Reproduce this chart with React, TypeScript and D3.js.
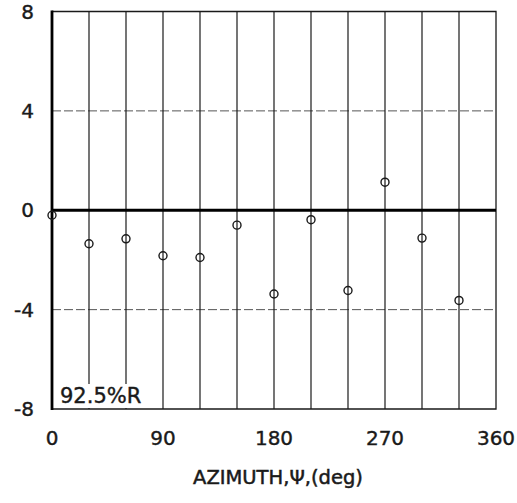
import * as d3 from "d3";
import React, { useEffect, useRef } from "react";

// azimuth stations (deg) and measured values
const azimuths = [0, 30, 60, 90, 120, 150, 180, 210, 240, 270, 300, 330];
const values = [-0.2, -1.35, -1.15, -1.83, -1.9, -0.6, -3.37, -0.38, -3.23, 1.13, -1.12, -3.63];
const xTicks = [0, 90, 180, 270, 360];
const xGrid = [30, 60, 90, 120, 150, 180, 210, 240, 270, 300, 330];
const yTicks = [-8, -4, 0, 4, 8];
const label = "92.5%R";
const xTitle = "AZIMUTH,\u03A8,(deg)";

export default function App() {
  const ref = useRef<SVGSVGElement | null>(null);

  useEffect(() => {
    if (!ref.current) return;
    const width = 517, height = 503;
    const margin = { top: 11.5, right: 21, bottom: 94, left: 52 };

    const svg = d3.select(ref.current);
    svg.selectAll("*").remove();

    const x = d3.scaleLinear().domain([0, 360]).range([margin.left, width - margin.right]);
    const y = d3.scaleLinear().domain([-8, 8]).range([height - margin.bottom, margin.top]);

    const font = "'DejaVu Sans', Verdana, sans-serif";
    const ink = "#1a1a1a";

    // horizontal grid (dashed)
    svg.append("g")
      .selectAll("line")
      .data([-4, 4])
      .join("line")
      .attr("x1", x(0)).attr("x2", x(360))
      .attr("y1", d => y(d)).attr("y2", d => y(d))
      .attr("stroke", "#555")
      .attr("stroke-width", 1)
      .attr("stroke-dasharray", "9,3");

    // vertical grid
    svg.append("g")
      .selectAll("line")
      .data(xGrid)
      .join("line")
      .attr("x1", d => x(d)).attr("x2", d => x(d))
      .attr("y1", y(8)).attr("y2", y(-8))
      .attr("stroke", ink)
      .attr("stroke-width", 1.2);

    // frame (top, right, bottom)
    svg.append("path")
      .attr("d", `M${x(0)},${y(8)}H${x(360)}V${y(-8)}H${x(0)}`)
      .attr("fill", "none")
      .attr("stroke", ink).attr("stroke-width", 1.3);

    // label box hides grid lines behind it
    const lbl = svg.append("text")
      .attr("x", x(0) + 8)
      .attr("y", y(-8) - 6)
      .attr("font-family", font)
      .attr("font-size", 21)
      .attr("fill", ink)
      .attr("stroke", ink)
      .attr("stroke-width", 0.4)
      .text(label);
    const bb = (lbl.node() as SVGTextElement).getBBox();
    svg.insert("rect", "text")
      .attr("x", bb.x - 2).attr("y", bb.y)
      .attr("width", bb.width + 4).attr("height", y(-8) - bb.y - 1)
      .attr("fill", "#fff");

    // zero line and left axis (thick)
    svg.append("line")
      .attr("x1", x(0)).attr("x2", x(360)).attr("y1", y(0)).attr("y2", y(0))
      .attr("stroke", "#000").attr("stroke-width", 2.8);
    svg.append("line")
      .attr("x1", x(0)).attr("x2", x(0)).attr("y1", y(8) - 1).attr("y2", y(-8) + 1)
      .attr("stroke", "#000").attr("stroke-width", 2.8);

    // data points
    svg.append("g")
      .selectAll("circle")
      .data(azimuths.map((a, i) => ({ a, v: values[i] })))
      .join("circle")
      .attr("cx", d => x(d.a))
      .attr("cy", d => y(d.v))
      .attr("r", 4)
      .attr("fill", "none")
      .attr("stroke", ink)
      .attr("stroke-width", 1.4);

    // y tick labels
    svg.append("g")
      .selectAll("text")
      .data(yTicks)
      .join("text")
      .attr("x", 34)
      .attr("y", d => y(d))
      .attr("dy", "0.36em")
      .attr("text-anchor", "end")
      .attr("font-family", font)
      .attr("font-size", 20)
      .attr("fill", ink)
      .attr("stroke", ink)
      .attr("stroke-width", 0.4)
      .text(d => d);

    // x tick labels
    svg.append("g")
      .selectAll("text")
      .data(xTicks)
      .join("text")
      .attr("x", d => x(d))
      .attr("y", 445)
      .attr("text-anchor", "middle")
      .attr("font-family", font)
      .attr("font-size", 20)
      .attr("fill", ink)
      .attr("stroke", ink)
      .attr("stroke-width", 0.4)
      .text(d => d);

    svg.append("text")
      .attr("x", x(180) + 4)
      .attr("y", 484)
      .attr("text-anchor", "middle")
      .attr("font-family", font)
      .attr("font-size", 19.5)
      .attr("fill", ink)
      .attr("stroke", ink)
      .attr("stroke-width", 0.5)
      .text(xTitle);
  }, []);

  return (
    <svg ref={ref} width={517} height={503}
      style={{ position: "absolute", left: 0, top: 0, background: "#fff" }} />
  );
}
